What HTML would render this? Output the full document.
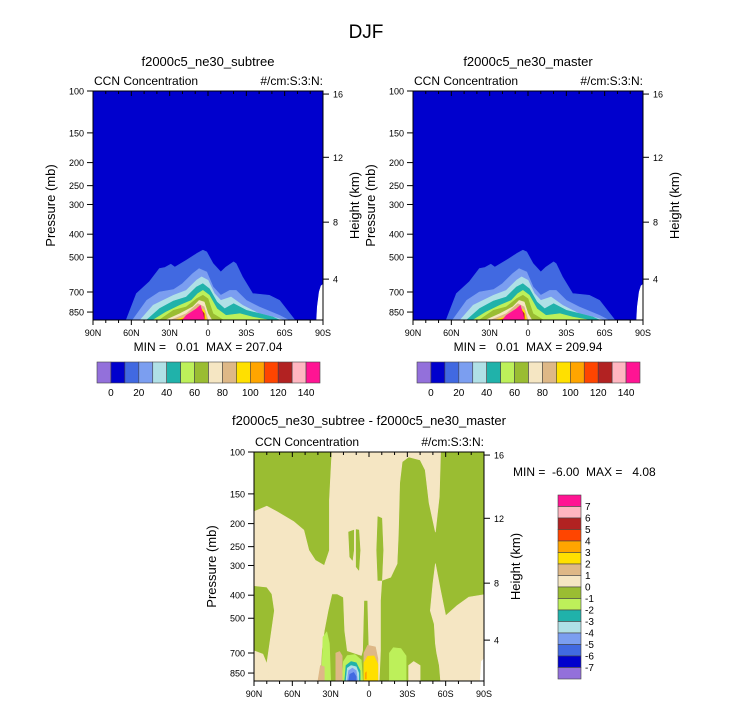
<!DOCTYPE html>
<html><head><meta charset="utf-8">
<style>
html,body{margin:0;padding:0;background:#fff;}
svg{display:block;font-family:"Liberation Sans",Helvetica,Arial,sans-serif;}
.pre{white-space:pre;}
</style></head>
<body>
<svg id="chart" width="733" height="706" viewBox="0 0 733 706" xmlns="http://www.w3.org/2000/svg">
<rect width="733" height="706" fill="#fff"/>
<text x="366" y="38" font-size="19" text-anchor="middle">DJF</text>
</svg>
<script>
// ---------- data ----------
const latTicks = [90, 60, 30, 0, -30, -60, -90];
const latTickLabels = ["90N", "60N", "30N", "0", "30S", "60S", "90S"];
const pressureTicks = [100, 150, 200, 250, 300, 400, 500, 700, 850];
const heightTickLabels = ["16", "12", "8", "4"];
const heightTickPressures = [103, 190, 356, 618];

const absColors = ["#9370db","#0000cd","#4169e1","#7b9ef0","#b0e0e6","#20b2aa","#bdf05a","#9abd32","#f5e6c3","#deb887","#ffe000","#ffa500","#ff4500","#b22222","#ffb6c1","#ff1493"];
const absLabels = ["0","20","40","60","80","100","120","140"];
const diffColors = ["#ff1493","#ffb6c1","#b22222","#ff4500","#ffa500","#ffe000","#deb887","#f5e6c3","#9abd32","#bdf05a","#20b2aa","#b0e0e6","#7b9ef0","#4169e1","#0000cd","#9370db"];
const diffLabels = ["7","6","5","4","3","2","1","0","-1","-2","-3","-4","-5","-6","-7"];

// contour level outlines, [latitude, pressure(mb)] pairs (absolute fields)
const lev20 = [[64,918],[56,711],[46,635],[38,558],[34,553],[29,535],[26,550],[17,515],[9,483],[4,467],[1,475],[-4,532],[-10,577],[-14,550],[-20,523],[-22,532],[-27,605],[-35,711],[-48,723],[-56,759],[-68,918]];
const lev30 = [[59,918],[48,759],[38,700],[27,684],[20,646],[12,586],[7,558],[1,577],[-4,667],[-10,723],[-17,689],[-22,689],[-30,759],[-40,809],[-56,878],[-63,918]];
const lev40 = [[53,918],[43,796],[27,723],[17,689],[9,625],[5,605],[0,625],[-5,711],[-10,759],[-18,735],[-27,796],[-40,864],[-51,893],[-59,918]];
const lev50 = [[48,918],[38,823],[27,764],[17,735],[9,667],[4,646],[-1,678],[-7,771],[-13,823],[-20,784],[-30,836],[-51,893],[-56,918]];
const lev60 = [[43,918],[33,850],[22,796],[13,759],[8,711],[4,689],[-1,723],[-7,823],[-14,878],[-25,864],[-35,893],[-48,918]];
const lev70 = [[38,918],[27,836],[17,809],[9,747],[4,723],[0,747],[-4,864],[-12,918]];
const lev80 = [[33,918],[22,864],[12,809],[7,759],[3,771],[0,864],[-3,918]];
const lev90 = [[29,918],[17,864],[8,784],[3,809],[0,918]];
const lev100 = [[26,918],[14,878],[8,809],[3,836],[1,918]];
const lev110 = [[23,918],[12,878],[7,823],[3,864],[2,918]];
const lev120 = [[22,918],[10,885],[7,836],[4,918]];
const lev130 = [[21,918],[9,878],[7,809],[3,864],[3,918]];
const lev140 = [[20,918],[17,893],[9,850],[7,809],[4,893],[3,918]];
const lev150 = [[20,918],[17,878],[9,823],[6,796],[4,864],[3,918]];
const absMissing = [[-85,918],[-85.5,809],[-87,700],[-88.5,660],[-90,650],[-90,918]];
const absLevels = [lev20,lev30,lev40,lev50,lev60,lev70,lev80,lev90,lev100,lev110,lev120,lev130,lev140,lev150];
const absLevelColors = ["#4169e1","#7b9ef0","#b0e0e6","#20b2aa","#bdf05a","#9abd32","#f5e6c3","#deb887","#ffe000","#ffa500","#ff4500","#b22222","#ffb6c1","#ff1493"];

// difference field regions [latitude, pressure]
const diffZeroMain = [[90,178],[80,169],[72,178],[59,196],[51,213],[47,259],[42,285],[35,300],[31,259],[31,159],[29,100],[-56,100],[-55,154],[-52,217],[-47,164],[-44,119],[-40,108],[-31,105],[-26,110],[-24,135],[-23,220],[-22,295],[-17,336],[-10,347],[-9,421],[-9,685],[-8,918],[0,918],[0,685],[1,421],[4,421],[5,685],[6,717],[17,685],[19,564],[20,408],[25,395],[29,395],[32,465],[35,564],[37,685],[38,918],[78,918],[80,777],[77,602],[74,465],[76,395],[80,370],[90,365]];
const diffZeroSW = [[90,685],[83,708],[80,777],[78,918],[90,918]];
const diffZeroSE = [[-52,295],[-56,383],[-60,488],[-69,442],[-78,408],[-90,398],[-90,918],[-56,918],[-55,790],[-53,700],[-52,640],[-51,529],[-48,465],[-50,358]];
const diffZeroBlob = [[-31,918],[-31,790],[-35,760],[-40,790],[-40,918]];
const diffNegIsle1 = [[16,217],[12,213],[12,259],[13,285],[15,276]];
const diffNegIsle2 = [[10,212],[8,213],[7,259],[8,314],[10,304],[10,251]];
const diffNegIsle3 = [[-7,187],[-10,190],[-11,259],[-10,347],[-7,347],[-6,259]];
const diffM1a = [[-16,918],[-16,700],[-19,665],[-25,670],[-29,720],[-29,918]];
const diffM1b = [[37,918],[36,600],[33,570],[31,640],[30,918]];
const diffM1c = [[21,918],[20,760],[17,717],[11,710],[6,750],[5,918]];
const diffM2 = [[19,918],[18,790],[14,760],[10,770],[7,830],[7,918]];
const diffM3 = [[18,918],[17,810],[14,790],[10,800],[8,850],[8,918]];
const diffM4 = [[17,918],[16,830],[13,810],[10,830],[9,918]];
const diffM5 = [[16,918],[15,860],[12,845],[10,880],[10,918]];
const diffP1a = [[4,918],[4,700],[1,650],[-5,660],[-7,740],[-7,918]];
const diffP1b = [[26,918],[26,700],[23,690],[21,720],[21,918]];
const diffP1c = [[40,918],[38,790],[35,800],[35,918]];
const diffP2 = [[4,918],[4,770],[1,722],[-4,720],[-7,780],[-7,918]];
const diffP3 = [[3,900],[3,850],[2,840],[2,900]];
const diffMissing = [[-87,918],[-88,760],[-90,740],[-90,918]];
</script>
<script>
const NS = "http://www.w3.org/2000/svg";
const svg = document.getElementById("chart");
const P_BOT = 918;
function mk(tag, attrs, parent){
  const e = document.createElementNS(NS, tag);
  for (const k in attrs) e.setAttribute(k, attrs[k]);
  (parent||svg).appendChild(e);
  return e;
}
function makeAxes(x0, y0, w, h){
  const xs = lat => x0 + (90 - lat) / 180 * w;
  const ys = p => y0 + Math.log10(Math.min(p, P_BOT) / 100) / Math.log10(P_BOT / 100) * h;
  return {xs, ys};
}
function poly(g, pts, color, ax, name){
  const d = pts.map(q => ax.xs(q[0]).toFixed(1) + "," + ax.ys(q[1]).toFixed(1)).join(" ");
  const e = mk("polygon", {points: d, fill: color, stroke: color, "stroke-width": 0.6, "stroke-linejoin": "round"}, g);
  
  
  return e;
}
function frame(g, x0, y0, w, h, ax, yTitleX, hTitleX, title, titleY){
  const t = mk("text", {x: x0 + w/2, y: titleY, "font-size": 13, "text-anchor": "middle"});
  t.textContent = title;
  
  
  const l = mk("text", {x: x0 + 1, y: y0 - 6, "font-size": 12});
  l.textContent = "CCN Concentration";
  
  
  const r = mk("text", {x: x0 + w, y: y0 - 6, "font-size": 12, "text-anchor": "end"});
  r.textContent = "#/cm:S:3:N:";
  
  
  const b = mk("rect", {x: x0, y: y0, width: w, height: h, fill: "none", stroke: "#000", "stroke-width": 1}, g);
  
  
  pressureTicks.forEach(p => {
    const y = ax.ys(p);
    mk("line", {x1: x0 - 6, x2: x0, y1: y, y2: y, stroke: "#000", "stroke-width": 1}, g);
    const tx = mk("text", {x: x0 - 9, y: y + 3.5, "font-size": 9, "text-anchor": "end"});
    tx.textContent = p;
    
    
  });
  heightTickPressures.forEach((p, i) => {
    const y = ax.ys(p);
    mk("line", {x1: x0 + w, x2: x0 + w + 6, y1: y, y2: y, stroke: "#000", "stroke-width": 1}, g);
    const tx = mk("text", {x: x0 + w + 10, y: y + 3.5, "font-size": 9});
    tx.textContent = heightTickLabels[i];
    
    
  });
  for (let lat = 90; lat >= -90; lat -= 10){
    const x = ax.xs(lat);
    const major = lat % 30 === 0;
    const len = major ? 5 : 3;
    mk("line", {x1: x, x2: x, y1: y0 + h, y2: y0 + h + len, stroke: "#000", "stroke-width": 1}, g);
    mk("line", {x1: x, x2: x, y1: y0, y2: y0 + len, stroke: "#000", "stroke-width": 1}, g);
  }
  latTicks.forEach((lat, i) => {
    const tx = mk("text", {x: ax.xs(lat), y: y0 + h + 16, "font-size": 9, "text-anchor": "middle"});
    tx.textContent = latTickLabels[i];
    
    
  });
  const yt = mk("text", {x: yTitleX, y: y0 + h/2, "font-size": 13, "text-anchor": "middle", transform: `rotate(-90 ${yTitleX} ${y0 + h/2})`});
  yt.textContent = "Pressure (mb)";
  
  
  const ht = mk("text", {x: hTitleX, y: y0 + h/2, "font-size": 13, "text-anchor": "middle", transform: `rotate(-90 ${hTitleX} ${y0 + h/2})`});
  ht.textContent = "Height (km)";
  
  
}
function absPanel(x0, title, maxText){
  const y0 = 91, w = 230, h = 229;
  const ax = makeAxes(x0, y0, w, h);
  const g = mk("g", {});
  
  
  const bg = mk("rect", {x: x0, y: y0, width: w, height: h, fill: "#0000cd"}, g);
  
  
  absLevels.forEach((lv, i) => poly(g, lv, absLevelColors[i], ax, 'contour-level'));
  poly(g, absMissing, "#fff", ax, 'missing-region');
  frame(g, x0, y0, w, h, ax, x0 - 38, x0 + w + 36, title, 66);
  const mm = mk("text", {x: x0 + 115, y: 351, "font-size": 12, "text-anchor": "middle", "class": "pre"});
  mm.textContent = "MIN =   0.01  MAX = " + maxText;
  
  
  const cx = x0 + 4, cw = 223 / 16;
  const cb = mk("g", {});
  
  
  absColors.forEach((c, i) => {
    const r = mk("rect", {x: cx + i*cw, y: 362, width: cw, height: 21, fill: c, stroke: "#444", "stroke-width": 0.6}, cb);
    
    
  });
  absLabels.forEach((s, i) => {
    const t = mk("text", {x: cx + (1 + 2*i)*cw, y: 396, "font-size": 10, "text-anchor": "middle"}, cb);
    t.textContent = s;
    
    
  });
}
absPanel(93, "f2000c5_ne30_subtree", "207.04");
absPanel(413, "f2000c5_ne30_master", "209.94");

(function(){
  const x0 = 254, y0 = 452, w = 230, h = 229;
  const ax = makeAxes(x0, y0, w, h);
  const g = mk("g", {});
  
  
  const bg = mk("rect", {x: x0, y: y0, width: w, height: h, fill: "#9abd32"}, g);
  
  
  const W = "#f5e6c3", G = "#9abd32";
  poly(g, diffZeroMain, W, ax, 'zero-region');
  poly(g, diffZeroSW, W, ax, 'zero-region');
  poly(g, diffZeroSE, W, ax, 'zero-region');
  poly(g, diffZeroBlob, W, ax, 'zero-region');
  poly(g, diffNegIsle1, G, ax, 'negative-island');
  poly(g, diffNegIsle2, G, ax, 'negative-island');
  poly(g, diffNegIsle3, G, ax, 'negative-island');
  poly(g, diffM1a, "#bdf05a", ax, 'minus-two-region');
  poly(g, diffM1b, "#bdf05a", ax, 'minus-two-region');
  poly(g, diffM1c, "#bdf05a", ax, 'minus-two-region');
  poly(g, diffM2, "#20b2aa", ax, 'minus-three-region');
  poly(g, diffM3, "#b0e0e6", ax, 'minus-four-region');
  poly(g, diffM4, "#7b9ef0", ax, 'minus-five-region');
  poly(g, diffM5, "#4169e1", ax, 'minus-six-region');
  poly(g, diffP1a, "#deb887", ax, 'plus-one-region');
  poly(g, diffP1b, "#deb887", ax, 'plus-one-region');
  poly(g, diffP1c, "#deb887", ax, 'plus-one-region');
  poly(g, diffP2, "#ffe000", ax, 'plus-two-region');
  poly(g, diffP3, "#ffa500", ax, 'plus-three-region');
  poly(g, diffMissing, "#fff", ax, 'missing-region');
  frame(g, x0, y0, w, h, ax, x0 - 38, x0 + w + 36, "f2000c5_ne30_subtree - f2000c5_ne30_master", 425);
  const mm = mk("text", {x: 513, y: 476, "font-size": 12, "class": "pre"});
  mm.textContent = "MIN =  -6.00  MAX =   4.08";
  
  
  const cb = mk("g", {});
  
  
  const ch = 184 / 16;
  diffColors.forEach((c, i) => {
    const r = mk("rect", {x: 558, y: 495 + i*ch, width: 23, height: ch, fill: c, stroke: "#444", "stroke-width": 0.6}, cb);
    
    
  });
  diffLabels.forEach((s, i) => {
    const t = mk("text", {x: 585, y: 495 + (i+1)*ch + 3.5, "font-size": 10}, cb);
    t.textContent = s;
    
    
  });
})();
</script>
</body></html>
